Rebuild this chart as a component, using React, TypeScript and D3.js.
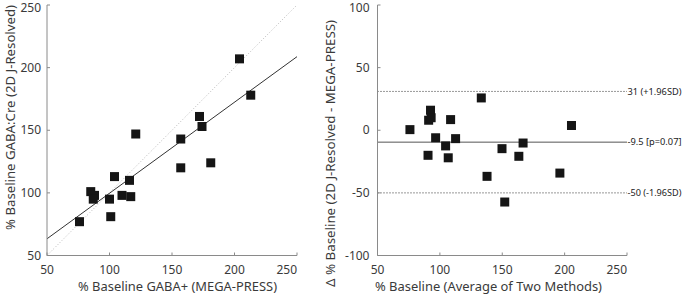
import React from "react";
import * as d3 from "d3";

// Left: correlation data
const megaPress = [76, 85, 88, 87, 104, 100, 101, 110, 117, 116, 121, 157, 157, 172, 174, 181, 204, 213];
const jResolved = [77, 101, 98, 95, 113, 95, 81, 98, 97, 110, 147, 143, 120, 161, 153, 124, 207, 178];
// Regression line
const regSlope = 0.727;
const regIntercept = 27;

// Right: Bland-Altman data
const baAverage = [76, 91, 92.5, 93, 90.5, 96.6, 104.6, 106.7, 108.6, 112.6, 133.2, 137.8, 149.8, 152, 163.3, 166.7, 196.2, 205.5];
const baDiff = [0.5, 8, 16, 10, -20, -6, -12.5, -22, 8.5, -6.7, 25.8, -36.8, -14.7, -57.3, -20.8, -10.2, -34.2, 3.8];
const baMean = -9.5;
const baUpper = 31;
const baLower = -50;
const baLabels = ["31 (+1.96SD)", "-9.5 [p=0.07]", "-50 (-1.96SD)"];

const xTicks = [50, 100, 150, 200, 250];
const yTicksLeft = [50, 100, 150, 200, 250];
const yTicksRight = [-100, -50, 0, 50, 100];

const FONT = "'Noto Sans', 'Open Sans', sans-serif";
const AXIS = "#8a8a8a";
const TEXT = "#3a3a3a";
const SQ = 9;

function Axes({ x, y, xt, yt, gap }: any) {
  const [x0, x1] = x.range();
  const [y0, y1] = y.range();
  return (
    <g>
      <line x1={x0} x2={x0} y1={y0} y2={y1} stroke={AXIS} strokeWidth={1} />
      <line x1={x0} x2={x1} y1={y0} y2={y0} stroke={AXIS} strokeWidth={1} />
      {xt.map((t: number, i: number) => (
        <g key={"x" + t}>
          <line x1={x(t)} x2={x(t)} y1={y0} y2={y0 - 3} stroke={AXIS} />
          <text x={x(t)} y={y0 + 18} textAnchor={i === xt.length - 1 ? "end" : "middle"} fontSize={12} fill={TEXT} fontFamily={FONT}>{t}</text>
        </g>
      ))}
      {yt.map((t: number, i: number) => (
        <g key={"y" + t}>
          <line x1={x0} x2={x0 + 3} y1={y(t)} y2={y(t)} stroke={AXIS} />
          <text x={x0 - gap} y={y(t) + (i === yt.length - 1 ? 2.5 : 0)} dy="0.35em" textAnchor="end" fontSize={12} fill={TEXT} fontFamily={FONT}>{t}</text>
        </g>
      ))}
    </g>
  );
}

export default function App() {
  const xL = d3.scaleLinear().domain([50, 250]).range([47, 297]);
  const yL = d3.scaleLinear().domain([50, 250]).range([255.5, 5]);
  const xR = d3.scaleLinear().domain([50, 250]).range([377.5, 627]);
  const yR = d3.scaleLinear().domain([-100, 100]).range([255.5, 5]);

  const regLine = d3.line<number>().x((d) => xL(d)).y((d) => yL(regSlope * d + regIntercept));

  return (
    <svg width={685} height={299} style={{ position: "absolute", left: 0, top: 0 }}>
      <rect width={685} height={299} fill="#fff" />
      {/* Left panel */}
      <line x1={xL(50)} y1={yL(50)} x2={xL(250)} y2={yL(250)} stroke="#b8b8b8" strokeWidth={1} strokeDasharray="1,2" />
      <path d={regLine([50, 250]) || ""} stroke="#333" strokeWidth={1} fill="none" />
      <Axes x={xL} y={yL} xt={xTicks} yt={yTicksLeft} gap={6} />
      {megaPress.map((v, i) => (
        <rect key={i} x={xL(v) - SQ / 2} y={yL(jResolved[i]) - SQ / 2} width={SQ} height={SQ} fill="#151515" />
      ))}
      <text x={78} y={291} textLength={199} lengthAdjust="spacingAndGlyphs" fontSize={13} fill={TEXT} fontFamily={FONT}>% Baseline GABA+ (MEGA-PRESS)</text>
      <text transform="translate(15,230) rotate(-90)" textLength={225} lengthAdjust="spacingAndGlyphs" fontSize={13} fill={TEXT} fontFamily={FONT}>% Baseline GABA:Cre (2D J-Resolved)</text>

      {/* Right panel */}
      <line x1={xR(50)} x2={xR(250)} y1={yR(baUpper)} y2={yR(baUpper)} stroke="#333" strokeDasharray="1,2" />
      <line x1={xR(50)} x2={xR(250)} y1={yR(baMean)} y2={yR(baMean)} stroke="#555" />
      <line x1={xR(50)} x2={xR(250)} y1={yR(baLower)} y2={yR(baLower)} stroke="#333" strokeDasharray="1,2" />
      <Axes x={xR} y={yR} xt={xTicks} yt={yTicksRight} gap={8} />
      {baAverage.map((v, i) => (
        <rect key={i} x={xR(v) - SQ / 2} y={yR(baDiff[i]) - SQ / 2} width={SQ} height={SQ} fill="#151515" />
      ))}
      {[baUpper, baMean, baLower].map((v, i) => (
        <text key={i} x={xR(250) + 0.5} y={yR(v)} dy="0.35em" textLength={54} lengthAdjust="spacingAndGlyphs" fontSize={9} fill="#222" fontFamily={FONT}>{baLabels[i]}</text>
      ))}
      <text x={375} y={291} textLength={227} lengthAdjust="spacingAndGlyphs" fontSize={13} fill={TEXT} fontFamily={FONT}>% Baseline (Average of Two Methods)</text>
      <text transform="translate(335,287) rotate(-90)" textLength={267} lengthAdjust="spacingAndGlyphs" fontSize={13} fill={TEXT} fontFamily={FONT}>Δ % Baseline (2D J-Resolved - MEGA-PRESS)</text>
    </svg>
  );
}
